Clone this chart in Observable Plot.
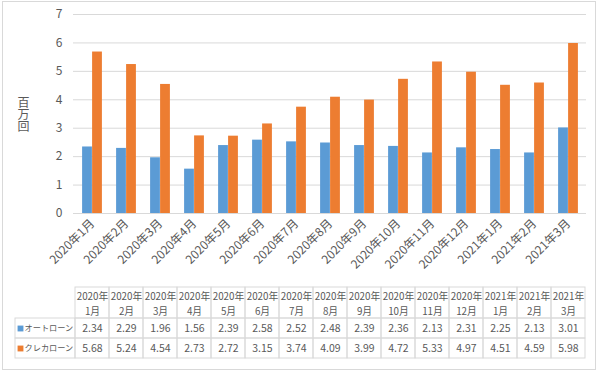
<!DOCTYPE html>
<html>
<head>
<meta charset="utf-8">
<script src="https://cdn.jsdelivr.net/npm/d3@7"></script>
<script src="https://cdn.jsdelivr.net/npm/@observablehq/plot@0.6"></script>
<style>
  html, body { margin: 0; padding: 0; background: #fff; }
  #wrap { position: relative; width: 600px; height: 373px; overflow: hidden; font-family: "Noto Sans CJK JP", sans-serif; }
  #frame { position: absolute; left: 2px; top: 1px; width: 592px; height: 367px; border: 1px solid #d9d9d9; pointer-events: none; }
  #ylabel { position: absolute; left: 17px; top: 96px; writing-mode: vertical-rl; text-orientation: upright; font-size: 12px; line-height: 12px; color: #595959; }
  svg { display: block; }
</style>
</head>
<body>
<div id="wrap">
  <div id="frame"></div>
  <div id="chart"></div>
  <div id="table"></div>
  <div id="ylabel">百万回</div>
</div>
<script>
const months = ["2020年1月","2020年2月","2020年3月","2020年4月","2020年5月","2020年6月","2020年7月","2020年8月","2020年9月","2020年10月","2020年11月","2020年12月","2021年1月","2021年2月","2021年3月"];
const seriesNames = ["オートローン", "クレカローン"];
const autoLoan = [2.34, 2.29, 1.96, 1.56, 2.39, 2.58, 2.52, 2.48, 2.39, 2.36, 2.13, 2.31, 2.25, 2.13, 3.01];
const cardLoan = [5.68, 5.24, 4.54, 2.73, 2.72, 3.15, 3.74, 4.09, 3.99, 4.72, 5.33, 4.97, 4.51, 4.59, 5.98];
const yTicks = [0, 1, 2, 3, 4, 5, 6, 7];
const colors = ["#5B9BD5", "#ED7D31"];

const W = 600, mL = 73, mR = 14;
const bw = (W - mL - mR) / months.length;
const barW = 10;

const autoData = months.map((m, i) => ({month: m, value: autoLoan[i]}));
const cardData = months.map((m, i) => ({month: m, value: cardLoan[i]}));

const font = "'Noto Sans CJK JP', sans-serif";

const chart = Plot.plot({
  width: W, height: 283,
  marginLeft: mL, marginRight: mR, marginTop: 14, marginBottom: 70,
  style: {fontFamily: font, fontSize: "12px", color: "#595959", background: "transparent", overflow: "visible"},
  x: {domain: months, padding: 0, tickRotate: -45, tickSize: 0, tickPadding: 8, label: null},
  y: {domain: [0, 7], ticks: yTicks, tickFormat: d3.format("d"), tickSize: 0, tickPadding: 11, label: null},
  marks: [
    Plot.ruleY(yTicks, {stroke: "#d9d9d9", strokeWidth: 1}),
    Plot.barY(autoData, {x: "month", y: "value", fill: colors[0], insetLeft: bw / 2 - barW, insetRight: bw / 2}),
    Plot.barY(cardData, {x: "month", y: "value", fill: colors[1], insetLeft: bw / 2, insetRight: bw / 2 - barW}),
    Plot.ruleY([0], {stroke: "#d9d9d9"})
  ]
});
document.getElementById("chart").appendChild(chart);

// data table below, aligned on the chart's x scale
const xs = chart.scale("x");
const band = xs.bandwidth;
const top0 = 4, headH = 31, rowH = 20, leftX = 15;
const rowTops = [top0 + headH, top0 + headH + rowH];

const headerCells = months.map(m => {
  const x0 = xs.apply(m);
  return {x1: x0, x2: x0 + band, y1: top0, y2: top0 + headH, cx: x0 + band / 2,
          l1: m.slice(0, m.indexOf("年") + 1), l2: m.slice(m.indexOf("年") + 1)};
});
const valueCells = [];
[autoLoan, cardLoan].forEach((vals, r) => {
  months.forEach((m, i) => {
    const x0 = xs.apply(m);
    valueCells.push({x1: x0, x2: x0 + band, y1: rowTops[r], y2: rowTops[r] + rowH, cx: x0 + band / 2, cy: rowTops[r] + rowH / 2, t: vals[i].toFixed(2)});
  });
});
const labelCells = seriesNames.map((s, r) => ({x1: leftX, x2: xs.apply(months[0]), y1: rowTops[r], y2: rowTops[r] + rowH, cy: rowTops[r] + rowH / 2, name: s, color: colors[r]}));

const table = Plot.plot({
  width: W, height: 90, margin: 0,
  style: {fontFamily: font, fontSize: "10px", color: "#595959", background: "transparent"},
  x: {type: "identity", axis: null},
  y: {type: "identity", axis: null},
  marks: [
    Plot.rect(headerCells, {x1: "x1", x2: "x2", y1: "y1", y2: "y2", stroke: "#d9d9d9", fill: "none"}),
    Plot.rect(valueCells, {x1: "x1", x2: "x2", y1: "y1", y2: "y2", stroke: "#d9d9d9", fill: "none"}),
    Plot.rect(labelCells, {x1: "x1", x2: "x2", y1: "y1", y2: "y2", stroke: "#d9d9d9", fill: "none"}),
    Plot.text(headerCells, {x: "cx", y: d => d.y1 + 9, text: "l1", fill: "#595959", fontSize: 9.8}),
    Plot.text(headerCells, {x: "cx", y: d => d.y1 + 24, text: "l2", fill: "#595959", fontSize: 9.8}),
    Plot.text(valueCells, {x: "cx", y: "cy", text: "t", fill: "#595959", fontSize: 10.5}),
    Plot.dot(labelCells, {x: d => d.x1 + 5, y: "cy", symbol: "square", r: 3.3, fill: "color"}),
    Plot.text(labelCells, {x: d => d.x1 + 9, y: "cy", text: "name", textAnchor: "start", fill: "#595959", fontSize: 8.2})
  ]
});
document.getElementById("table").appendChild(table);
</script>
</body>
</html>
